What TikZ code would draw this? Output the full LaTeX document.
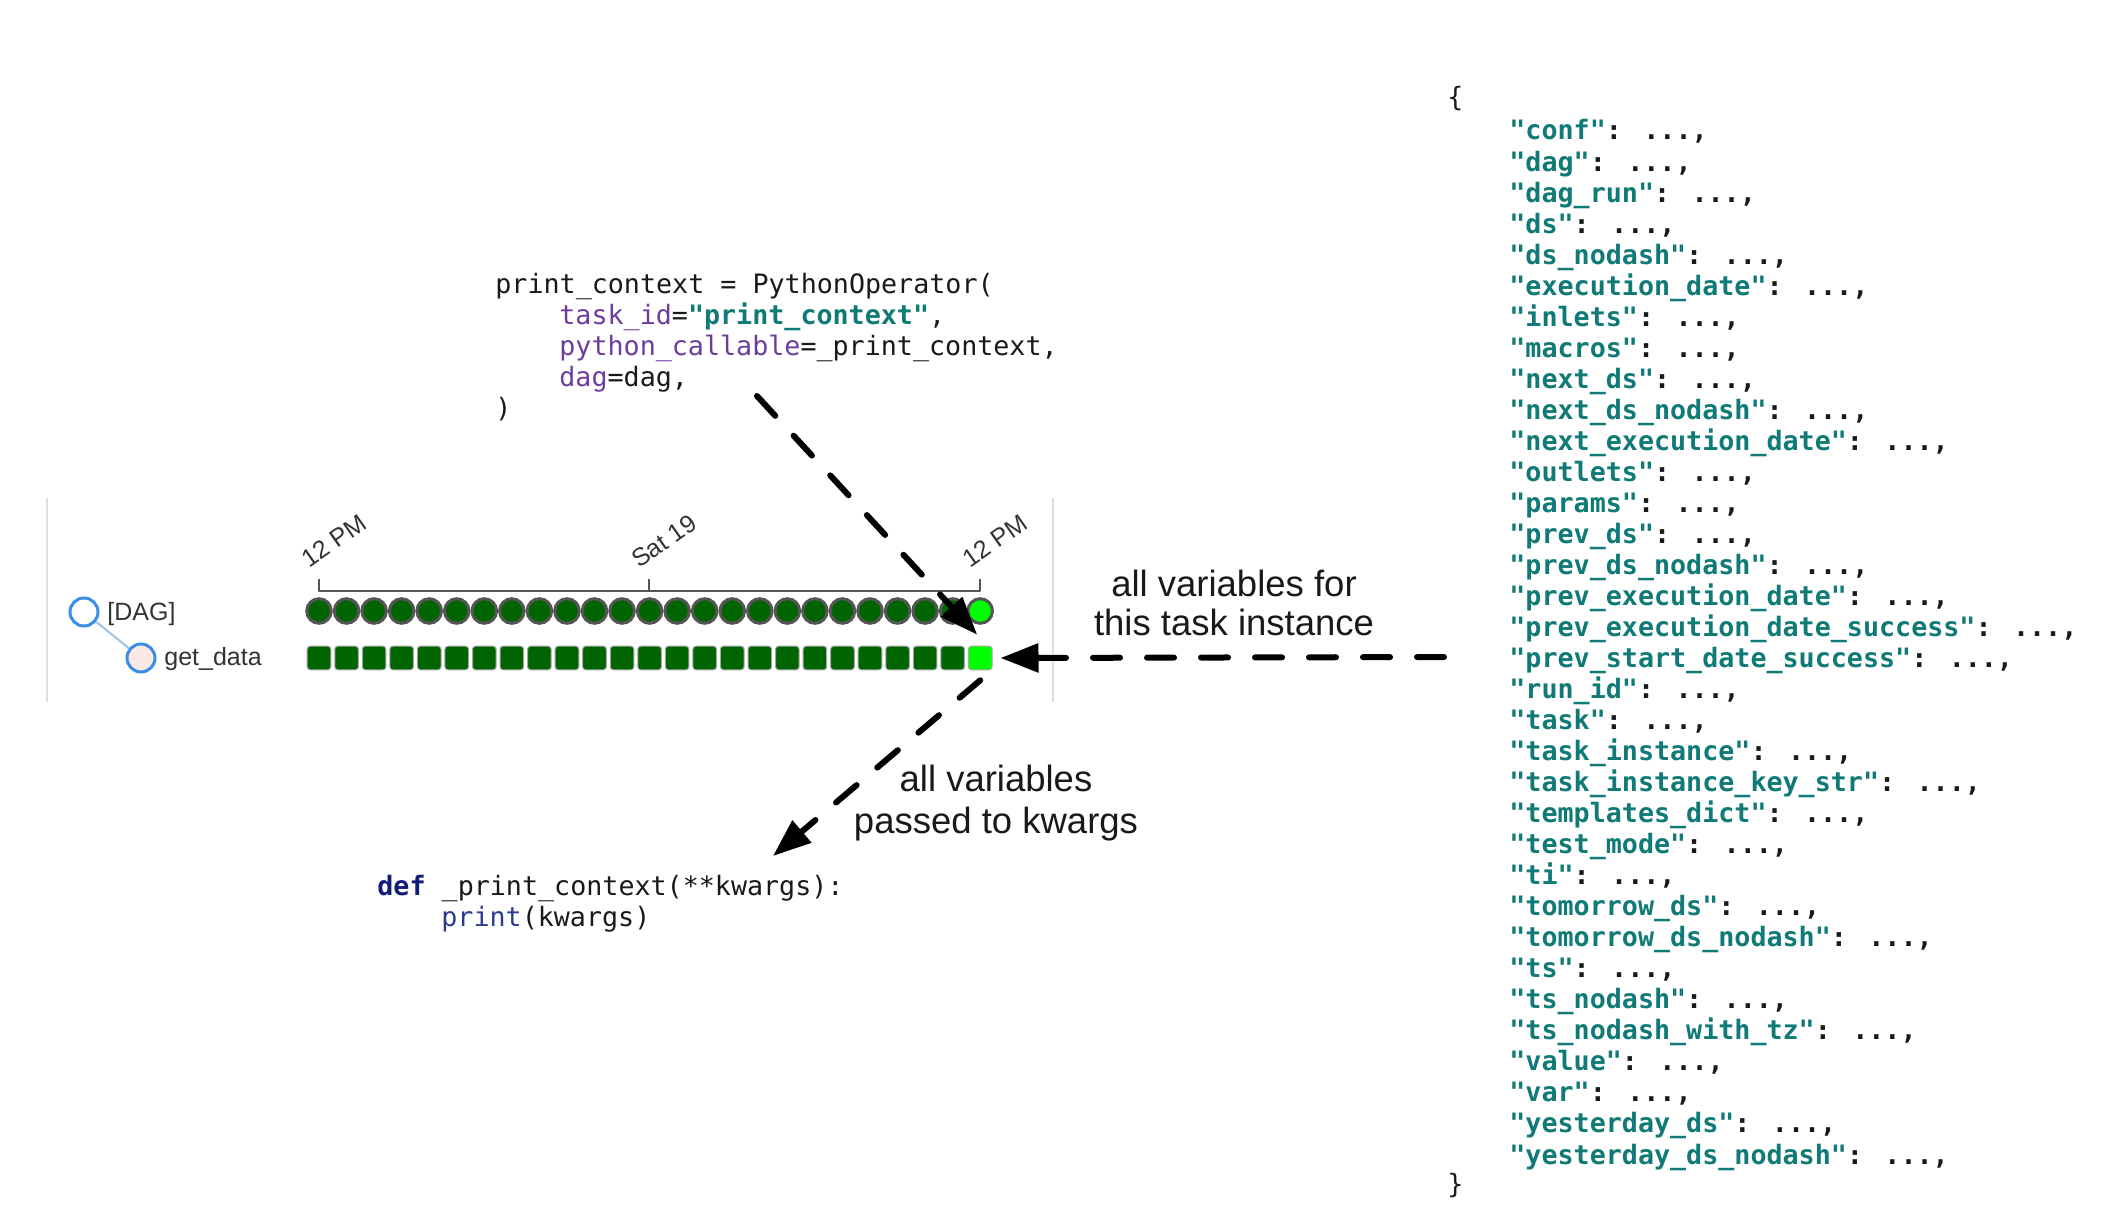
\documentclass[tikz,border=0pt]{standalone}
\usepackage{fontspec}
\usetikzlibrary{arrows.meta}
\newfontfamily\codefont{DejaVu Sans Mono}
\newfontfamily\labfont{Liberation Sans}
\definecolor{teal0}{HTML}{107A76}
\definecolor{purp}{HTML}{6E3C9E}
\definecolor{navy0}{HTML}{101C7A}
\definecolor{navy1}{HTML}{2A3C90}
\definecolor{dkgreen}{HTML}{006400}
\definecolor{ltgreen}{HTML}{00FF00}
\definecolor{dagblue}{HTML}{3A8EE6}
\definecolor{daglink}{HTML}{9CC3E8}
\definecolor{pinkfill}{HTML}{FCE8E4}
\definecolor{axisgray}{HTML}{555555}
\definecolor{txtgray}{HTML}{333333}
\tikzset{
  code/.style={anchor=base west, inner sep=0pt, text=black!90,
    font=\codefont\fontsize{13.35}{15.5}\selectfont},
  lab/.style={inner sep=0pt, align=center, text=black!90},
  ticklab/.style={anchor=base west, inner sep=0pt, rotate=35, text=txtgray,
    font=\labfont\fontsize{12.5}{14}\selectfont},
  treelab/.style={anchor=base west, inner sep=0pt, text=txtgray,
    font=\labfont\fontsize{12.5}{14}\selectfont},
  runc/.style={circle, minimum size=12.3pt, inner sep=0pt, line width=1.5pt,
    draw=axisgray, fill=dkgreen},
  tisq/.style={rectangle, minimum size=11.8pt, inner sep=0pt, rounded corners=1.5pt,
    line width=0.5pt, draw=gray!70, fill=dkgreen},
  treec/.style={circle, minimum size=14pt, inner sep=0pt, line width=1.5pt,
    draw=dagblue},
  darrow/.style={line width=3pt, line cap=round, dash pattern=on 13.5pt off 13.5pt,
    -{Triangle[length=19pt,width=14pt]}},
  border/.style={draw=gray!25, line width=0.75pt},
  axis/.style={draw=axisgray, line width=1.1pt, line join=round}
}
\begin{document}
\begin{tikzpicture}[x=0.5pt,y=-0.5pt]
\useasboundingbox (0,0) rectangle (2120,1230);

% ---- top code block
\node[code] (pc1) at (495,293) {print\_context = PythonOperator(};
\node[code] (pc2) at (559,324) {{\color{purp}task\_id}={\bfseries\color{teal0}"print\_context"},};
\node[code] (pc3) at (559,355) {{\color{purp}python\_callable}=\_print\_context,};
\node[code] (pc4) at (559,386) {{\color{purp}dag}=dag,};
\node[code] (pc5) at (495,417) {)};

% ---- bottom code block
\node[code] (fn1) at (377,895) {{\bfseries\color{navy0}def} \_print\_context(**kwargs):};
\node[code] (fn2) at (441,926) {{\color{navy1}print}(kwargs)};

% ---- JSON block
\node[code] (jopen) at (1447,107) {\{};
\foreach \k [count=\i] in {conf,dag,dag\_run,ds,ds\_nodash,execution\_date,inlets,macros,next\_ds,next\_ds\_nodash,next\_execution\_date,outlets,params,prev\_ds,prev\_ds\_nodash,prev\_execution\_date,prev\_execution\_date\_success,prev\_start\_date\_success,run\_id,task,task\_instance,task\_instance\_key\_str,templates\_dict,test\_mode,ti,tomorrow\_ds,tomorrow\_ds\_nodash,ts,ts\_nodash,ts\_nodash\_with\_tz,value,var,yesterday\_ds,yesterday\_ds\_nodash}
  \node[code, font=\codefont\bfseries\fontsize{13.35}{15.5}\selectfont] (j\i) at (1509,{140+31.03*(\i-1)}) {{\color{teal0}"\k"}: ...,};
\node[code] (jclose) at (1447,1193) {\}};

% ---- tree view panel
\draw[border] (47,498) -- (47,702);
\draw[border] (1053,498) -- (1053,702);

\node[treec, fill=white] (dagc) at (84,612) {};
\node[treec, fill=pinkfill] (gdc) at (141,658) {};
\draw[daglink, line width=1pt] (dagc) -- (gdc);
\node[treelab] (dagl) at (107,620) {[DAG]};
\node[treelab] (gdl) at (164,665) {get\_data};

% axis
\draw[axis] (319,579) -- (319,591) -- (980,591) -- (980,579);
\draw[axis] (649,591) -- (649,579);
\node[ticklab] (tk1) at (309,569) {12 PM};
\node[ticklab] (tk2) at (639,569) {Sat 19};
\node[ticklab] (tk3) at (970,569) {12 PM};

% runs and task instances
\foreach \i in {0,...,23} {
  \node[runc] (c\i) at ({319+27.55*\i},611) {};
  \node[tisq] (sq\i) at ({319+27.55*\i},658) {};
}
\node[runc, fill=ltgreen] (c24) at ({319+27.55*24},611) {};
\node[tisq, fill=ltgreen] (sq24) at ({319+27.55*24},658) {};

% ---- labels
\node[lab, font=\labfont\fontsize{18.25}{19.5}\selectfont] (lab1) at (1234,603)
  {all variables for\\this task instance};
\node[lab, font=\labfont\fontsize{18.25}{21}\selectfont] (lab2) at (996,803)
  {all variables\\passed to kwargs};

% ---- arrows
\coordinate (t1) at (757,396);
\coordinate (t2) at (1444,657);
\coordinate (h3) at (773,856);
\draw[darrow] (t1) -- ([shift={(-1.5pt,5.5pt)}]sq24.north);
\draw[darrow] (t2) -- ([xshift=4pt]sq24.east);
\draw[darrow] ([yshift=-5pt]sq24.south) -- (h3);
\end{tikzpicture}
\end{document}
